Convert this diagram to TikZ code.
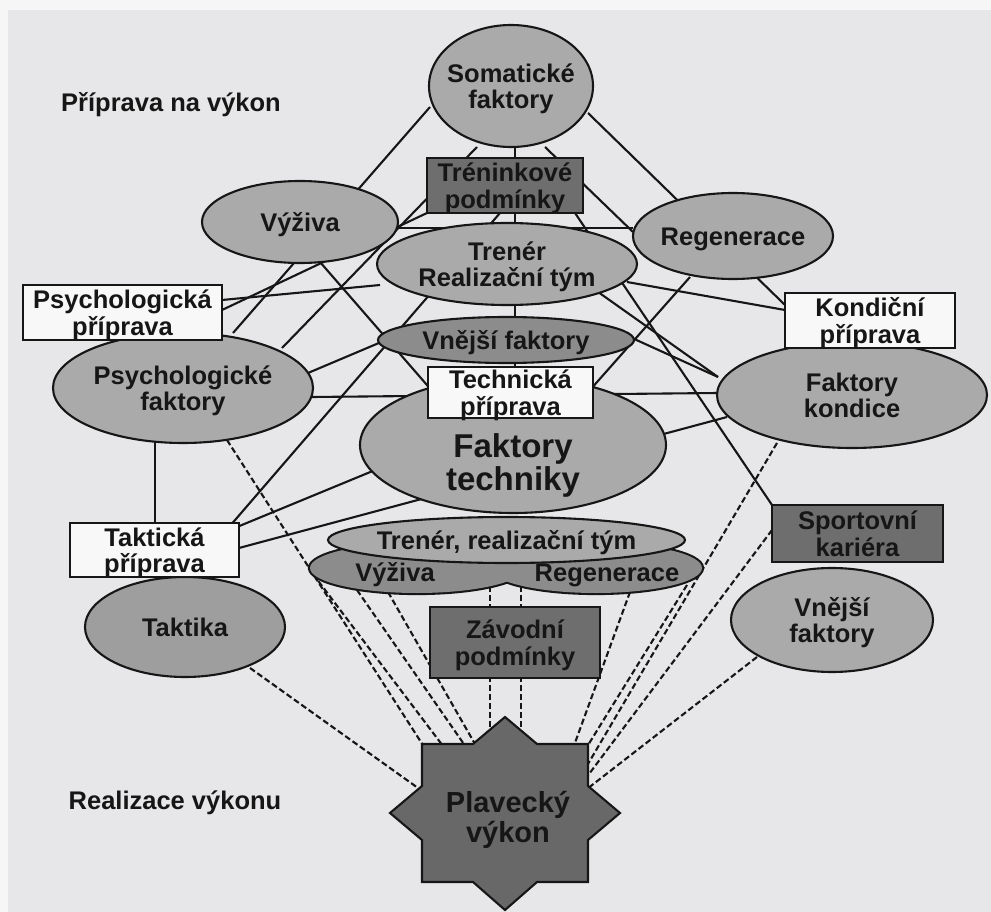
\documentclass[tikz,border=0pt]{standalone}
\usepackage{fontspec}
\setmainfont{Liberation Sans}
\usetikzlibrary{calc,shapes.geometric}
\pgfdeclarelayer{bg}
\pgfdeclarelayer{lines}
\pgfsetlayers{bg,lines,main}
\definecolor{paper}{RGB}{231,231,233}
\definecolor{paperw}{RGB}{246,246,247}
\definecolor{lightf}{RGB}{170,170,170}
\definecolor{takf}{RGB}{158,158,158}
\definecolor{midf}{RGB}{140,140,140}
\definecolor{darkf}{RGB}{110,110,110}
\definecolor{starf}{RGB}{104,104,104}
\definecolor{ink}{RGB}{22,22,22}
\definecolor{boxw}{RGB}{248,248,248}
\newcommand\lbl[1]{\smash{\raisebox{-.4em}{\makebox[0pt]{\begin{tabular}{@{}c@{}}#1\end{tabular}}}}}
\tikzset{
  lab/.style={font=\fontsize{25.5}{25}\selectfont\bfseries, text=ink},
  ell/.style={ellipse, draw=ink, line width=2.1pt, fill=lightf, inner sep=0pt, lab},
  rbox/.style={rectangle, draw=ink, line width=2.1pt, inner sep=0pt, lab},
  conn/.style={draw=ink, line width=2.1pt},
  dconn/.style={draw=ink, line width=2.1pt, dash pattern=on 6pt off 3pt},
}
\begin{document}
\begin{tikzpicture}[x=1pt,y=-1pt]
\useasboundingbox (0,0) rectangle (991,912);
\begin{pgfonlayer}{bg}
  \fill[paperw] (0,0) rectangle (991,912);
  \fill[paper] (8,10) rectangle (991,912);
\end{pgfonlayer}

% titles
\node[lab] (tprep) at (171,105) {Příprava na výkon};
\node[lab] (treal) at (175,803) {Realizace výkonu};

% upper nodes
\node[ell, minimum width=164pt, minimum height=122pt] (som) at (511,86) {\lbl{Somatické\\faktory}};
\node[ell, minimum width=196pt, minimum height=82pt] (vyz) at (300,222) {\lbl{Výživa}};
\node[ell, minimum width=200pt, minimum height=86pt] (reg) at (733,236) {\lbl{Regenerace}};
\node[ell, minimum width=260pt, minimum height=82pt] (trr) at (507,264) {\lbl{Trenér\\Realizační tým}};
\node[rbox, fill=darkf, minimum width=156pt, minimum height=55pt] (tren) at (505,185.5) {\lbl{Tréninkové\\podmínky}};
\node[ell, minimum width=260pt, minimum height=110pt] (psf) at (183,388) {\lbl{Psychologické\\faktory}};
\node[rbox, fill=boxw, minimum width=199pt, minimum height=55pt] (psp) at (122.5,312.5) {\lbl{Psychologická\\příprava}};
\node[ell, fill=midf, minimum width=256pt, minimum height=46pt] (vnf) at (506,340) {\lbl{Vnější faktory}};
\node[ell, minimum width=306pt, minimum height=136pt, font=\fontsize{33}{30}\selectfont\bfseries] (fte) at (513,445) {\lbl{\\Faktory\\techniky}};
\node[rbox, fill=boxw, minimum width=165pt, minimum height=51pt] (tep) at (510.5,392.5) {\lbl{Technická\\příprava}};
\node[ell, minimum width=270pt, minimum height=106pt] (fko) at (852,395) {\lbl{Faktory\\kondice}};
\node[rbox, fill=boxw, minimum width=170pt, minimum height=55pt] (kop) at (870,320.5) {\lbl{Kondiční\\příprava}};
\node[ell, fill=takf, minimum width=200pt, minimum height=100pt] (tak) at (185,627) {\lbl{Taktika}};
\node[rbox, fill=boxw, minimum width=169pt, minimum height=54pt] (tap) at (154.5,550) {\lbl{Taktická\\příprava}};

% lower lobes (Výživa / Regenerace), outline of the union
\node[ellipse, draw=ink, line width=4.2pt, fill=midf, inner sep=0pt, minimum width=214pt, minimum height=50pt] (loblo) at (417,568) {};
\node[ellipse, draw=ink, line width=4.2pt, fill=midf, inner sep=0pt, minimum width=212pt, minimum height=50pt] (lobro) at (596,568) {};
\node[ellipse, fill=midf, inner sep=0pt, minimum width=214pt, minimum height=50pt] (lobl) at (417,568) {};
\node[ellipse, fill=midf, inner sep=0pt, minimum width=212pt, minimum height=50pt] (lobr) at (596,568) {};
\node[lab] (lobltx) at (395,575) {Výživa};
\node[lab] (lobrtx) at (607,575) {Regenerace};
\node[ell, minimum width=357pt, minimum height=46pt] (trb) at (506.5,540) {\lbl{Trenér, realizační tým}};

\node[rbox, fill=darkf, minimum width=170pt, minimum height=71pt] (zap) at (515,642.5) {\lbl{Závodní\\podmínky}};
\node[rbox, fill=darkf, minimum width=171pt, minimum height=57pt] (spk) at (857.5,533.5) {\lbl{Sportovní\\kariéra}};
\node[ell, minimum width=202pt, minimum height=104pt] (vnr) at (832,620) {\lbl{Vnější\\faktory}};

% star
\coordinate (star) at (505,813);
\filldraw[fill=starf, draw=ink, line width=2.1pt, line join=miter, shift={(505,813)}]
  (115,0) -- (83,-27) -- (83,-69) -- (32,-69) -- (0,-96) -- (-32,-69) -- (-83,-69) -- (-83,-27)
  -- (-115,0) -- (-83,27) -- (-83,69) -- (-32,69) -- (0,97) -- (32,69) -- (83,69) -- (83,27) -- cycle;
\node[lab, font=\fontsize{29}{30}\selectfont\bfseries] (startx) at (508,816) {\lbl{Plavecký\\výkon}};

% connectors
\begin{pgfonlayer}{lines}
  \path[conn] ($(som)+(-81,21)$) -- ($(psf)+(50,-55)$);
  \path[conn] ($(som)+(-34,61)$) -- ($(psf)+(99,-40)$);
  \path[conn] ($(som.south)+(4,0)$) -- ($(fte)+(2,0)$);
  \path[conn] ($(som)+(34,61)$) -- ($(reg)+(-100,-4)$);
  \path[conn] ($(som)+(77,27)$) -- ($(kop)+(-85,-15.5)$);
  \path[conn] ($(vyz)+(97,6)$) -- ($(reg)+(-100,-8)$);
  \path[conn] ($(psp)+(99.5,-12.5)$) -- ($(trr)+(-127,21)$);
  \path[conn] ($(psp)+(99.5,-2.5)$) -- ($(tren)+(-78,27.5)$);
  \path[conn] ($(trr)+(120,18)$) -- ($(kop)+(-85,-10.5)$);
  \path[conn] ($(tren)+(70,27.5)$) -- ($(spk)+(-85.5,-28.5)$);
  \path[conn] ($(tren)+(-5,27.5)$) -- ($(tap)+(78,-27)$);
  \path[conn] ($(vyz)+(20,40)$) -- ($(fte)+(-73,-45)$);
  \path[conn] ($(reg)+(-43,41)$) -- ($(fte)+(77,-55)$);
  \path[conn] ($(psf)+(125,-15)$) -- ($(vnf)+(-120,0)$);
  \path[conn] ($(psf)+(129,9)$) -- ($(fko)+(-134,-2)$);
  \path[conn] ($(tap)+(82.5,-23)$) -- ($(fte)+(-133,23)$);
  \path[conn] ($(tap)+(84.5,-2)$) -- ($(fko)+(-125,22)$);
  \path[conn] ($(trr)+(53,1)$) -- ($(fko)+(-134,-18)$);
  \path[conn] ($(vnf)+(126,-2)$) -- ($(fko)+(-134,-18)$);
  \path[conn] ($(psf)+(-28,53)$) -- ($(tap)+(0.5,-27)$);
  % dashed to the star
  \path[dconn] ($(tak)+(65,41)$) -- ($(star)+(-80,-20)$);
  \path[dconn] ($(psf)+(44,52)$) -- ($(star)+(-77,-60)$);
  \path[dconn] ($(lobl)+(-104,6)$) -- ($(star)+(-59,-63)$);
  \path[dconn] ($(lobl)+(-60,22)$) -- ($(star)+(-37,-63)$);
  \path[dconn] ($(lobl)+(-29,24)$) -- ($(star)+(-26,-62)$);
  \path[dconn] ($(trb)+(-16.5,10)$) -- ($(star)+(-15,-50)$);
  \path[dconn] ($(trb)+(14.5,10)$) -- ($(star)+(16,-50)$);
  \path[dconn] ($(lobr)+(34,24)$) -- ($(star)+(67,-62)$);
  \path[dconn] ($(lobr)+(91,17)$) -- ($(star)+(80,-63)$);
  \path[dconn] ($(fko)+(-75,48)$) -- ($(star)+(80,-44)$);
  \path[dconn] ($(spk)+(-85.5,-3.5)$) -- ($(star)+(81,-35)$);
  \path[dconn] ($(vnr)+(-75,37)$) -- ($(star)+(82,-24)$);
\end{pgfonlayer}
\end{tikzpicture}
\end{document}
